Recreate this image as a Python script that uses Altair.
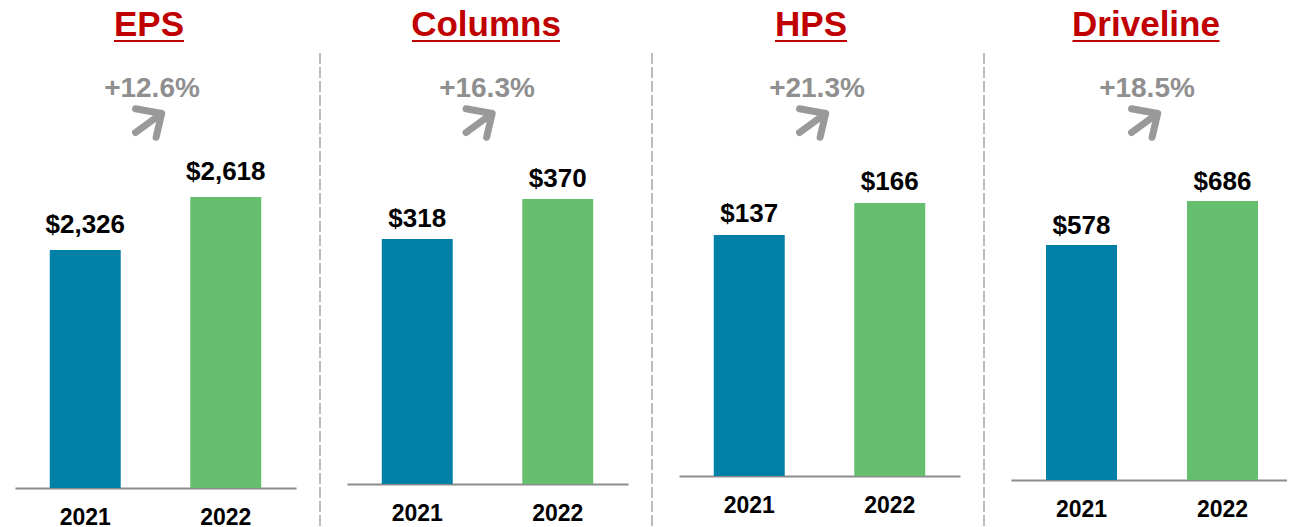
import altair as alt
import pandas as pd

# ---- data ----
segments = ["EPS", "Columns", "HPS", "Driveline"]
years = ["2021", "2022"]
values_2021 = [2326, 318, 137, 578]
values_2022 = [2618, 370, 166, 686]
growth_labels = ["+12.6%", "+16.3%", "+21.3%", "+18.5%"]

# ---- style / layout ----
FONT = "Liberation Sans"
bar_colors = ["#0080A7", "#66BF6E"]
title_red = "#C00000"
grey = "#8F8F8F"
PLOT_H = 519
panel_widths = [281, 281, 281, 276]
band_outer = [0.2475, 0.2475, 0.2475, 0.227]
band_inner = [0.495, 0.495, 0.495, 0.4965]
band_align = [0.5, 0.5, 0.5, 0.547]
baseline_px = [480, 476, 468, 472]          # pixel row of the bar baseline
scale_base = [1014.8, 0.0, -81.4, 0.0]      # value sitting on the baseline
px_per_unit = [0.18151, 0.7703, 1.1034, 0.4067]
value_gap = [17, 12, 13, 11]
title_x = [134, 139, 132, 135]
title_half_width = [35, 74, 36, 73.5]
pct_x = [137, 140, 138, 136]
arrow_x = [134, 132.5, 134, 134]
ARROW_PATH = "M-0.85,0.6L0.8,-0.6M-0.85,-0.9L0.8,-0.6L0.45,0.9"


def panel(i):
    seg = segments[i]
    df = pd.DataFrame({
        "year": years,
        "value": [values_2021[i], values_2022[i]],
    })
    df["label"] = ["$" + format(v, ",") for v in df["value"]]
    lo = scale_base[i]
    k = px_per_unit[i]
    b = baseline_px[i]
    dom = [lo - (PLOT_H - b) / k, lo + b / k]
    W = panel_widths[i]

    x_enc = alt.X(
        "year:N",
        scale=alt.Scale(domain=years, paddingInner=band_inner[i],
                        paddingOuter=band_outer[i], align=band_align[i]),
        axis=alt.Axis(
            title=None, labelAngle=0, labelFontSize=23, labelFontWeight="bold",
            labelColor="black", labelFont=FONT, labelPadding=18, ticks=False,
            tickSize=0, domainColor="#8C8C8C", domainWidth=2,
            offset=-(PLOT_H - b),
        ),
    )
    y_enc = alt.Y("value:Q", scale=alt.Scale(domain=dom, zero=False, nice=False), axis=None)

    base = alt.Chart(df)
    bars = base.mark_bar().encode(
        x=x_enc,
        y=y_enc,
        y2=alt.datum(lo),
        color=alt.Color("year:N", scale=alt.Scale(domain=years, range=bar_colors), legend=None),
    )
    vals = base.mark_text(
        dy=-value_gap[i], baseline="alphabetic", fontSize=26, fontWeight="bold",
        font=FONT, color="black",
    ).encode(x=x_enc, y=y_enc, text="label:N")

    tdf = pd.DataFrame({"t": [seg], "g": [growth_labels[i]]})
    tbase = alt.Chart(tdf)
    title = tbase.mark_text(
        fontSize=35, fontWeight="bold", font=FONT, color=title_red,
        baseline="alphabetic",
    ).encode(x=alt.value(title_x[i]), y=alt.value(28), text="t:N")
    underline = tbase.mark_rule(color=title_red, strokeWidth=2).encode(
        x=alt.value(title_x[i] - title_half_width[i]),
        x2=alt.value(title_x[i] + title_half_width[i]),
        y=alt.value(33),
    )
    pct = tbase.mark_text(
        fontSize=28, fontWeight="bold", font=FONT, color=grey, baseline="alphabetic",
    ).encode(x=alt.value(pct_x[i]), y=alt.value(89), text="g:N")
    arrow = tbase.mark_point(
        shape=ARROW_PATH, filled=False, stroke="#999999", strokeWidth=7,
        strokeCap="round", strokeJoin="round", opacity=1, size=1000,
    ).encode(x=alt.value(arrow_x[i]), y=alt.value(115))

    layers = [bars, vals, title, underline, pct, arrow]
    if i > 0:
        sep = tbase.mark_rule(color="#A6A6A6", strokeWidth=1.5, strokeDash=[11, 3]).encode(
            x=alt.value(-27), y=alt.value(45), y2=alt.value(PLOT_H),
        )
        layers.append(sep)
    return alt.layer(*layers).properties(width=W, height=PLOT_H)


chart = alt.hconcat(*[panel(i) for i in range(4)], spacing=23).properties(
    padding={"left": 7, "top": 0, "right": 0, "bottom": 0},
).configure_view(stroke=None)

chart.save("out.html", embed_options={"renderer": "svg", "actions": False})
